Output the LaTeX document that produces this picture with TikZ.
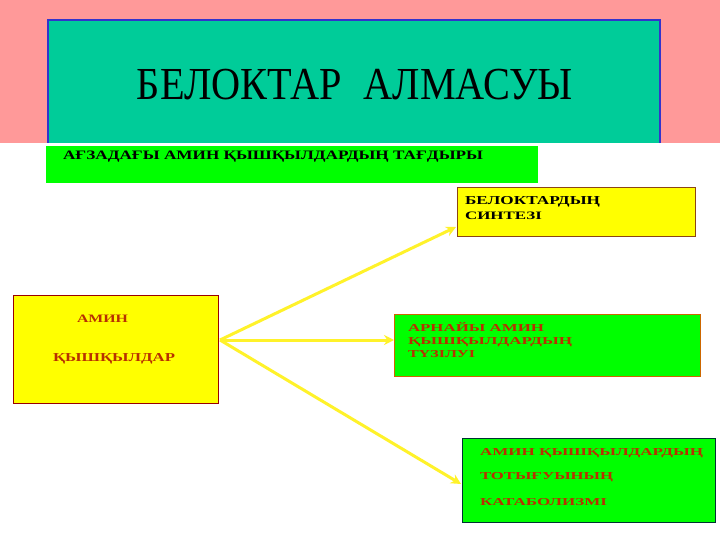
\documentclass[tikz,border=0pt]{standalone}
\usepackage{fontspec}
\usepackage{graphicx}
\setmainfont{Liberation Serif}
\usetikzlibrary{arrows.meta}
\definecolor{pinkbg}{HTML}{FF9999}
\definecolor{tealfill}{HTML}{00CC99}
\definecolor{tealborder}{HTML}{3333CC}
\definecolor{brightgreen}{HTML}{00FF00}
\definecolor{boxyellow}{HTML}{FFFF00}
\definecolor{arrowyellow}{HTML}{FFF22A}
\definecolor{redtext}{HTML}{B83000}
\definecolor{darkred}{HTML}{990000}
\definecolor{brownb}{HTML}{8B4513}
\definecolor{orangeb}{HTML}{CC6600}
\definecolor{navyb}{HTML}{003333}
\newcommand\fitline[3]{\resizebox{#1pt}{#2pt}{\bfseries\smash{#3}\vphantom{A}}}
\begin{document}
\begin{tikzpicture}[x=1pt,y=-1pt,
  box/.style={anchor=north west, inner sep=0pt, outer sep=0pt, line width=1pt},
  txt/.style={anchor=base west, inner sep=0pt, outer sep=0pt},
  conn/.style={draw=arrowyellow, line width=3pt, -{Stealth[length=10pt,width=10pt]}}]
\useasboundingbox (0,0) rectangle (720,540);
\fill[white] (0,0) rectangle (720,540);
\fill[pinkbg] (0,0) rectangle (720,143);
% title box
\node[box, fill=tealfill, minimum width=612pt, minimum height=123pt] (title) at (48,20) {};
\draw[tealborder, line width=1.5pt] (title.south west) -- (title.north west) -- (title.north east) -- (title.south east);
\node[anchor=base, inner sep=0pt] (titletext) at (355,100)
  {\resizebox{436pt}{30pt}{\smash{БЕЛОКТАР\hspace{0.55em}АЛМАСУЫ}\vphantom{Б}}};
% green bar
\node[box, fill=brightgreen, minimum width=492pt, minimum height=37pt] (bar) at (46,146) {};
\node[txt] (bartext) at (63,160) {\fitline{420}{8.5}{АҒЗАДАҒЫ АМИН ҚЫШҚЫЛДАРДЫҢ ТАҒДЫРЫ}};
% synthesis box
\node[box, fill=boxyellow, draw=brownb, minimum width=238pt, minimum height=48pt] (syn) at (457,188) {};
\node[txt] (syn1) at (465,205) {\fitline{135}{8}{БЕЛОКТАРДЫҢ}};
\node[txt] (syn2) at (465,219) {\fitline{77}{7.5}{СИНТЕЗІ}};
% amino acids box
\node[box, fill=boxyellow, draw=darkred, minimum width=205pt, minimum height=108pt] (amino) at (13,295) {};
\node[txt, text=redtext] (am1) at (77,322) {\fitline{51}{7.5}{АМИН}};
\node[txt, text=redtext] (am2) at (53,361) {\fitline{122}{8}{ҚЫШҚЫЛДАР}};
% special box
\node[box, fill=brightgreen, draw=orangeb, minimum width=306pt, minimum height=62pt] (spec) at (394,314) {};
\node[txt, text=redtext] (sp1) at (408,331) {\fitline{136}{7}{АРНАЙЫ АМИН}};
\node[txt, text=redtext] (sp2) at (408,344) {\fitline{164}{7}{ҚЫШҚЫЛДАРДЫҢ}};
\node[txt, text=redtext] (sp3) at (408,357) {\fitline{67}{7}{ТҮЗІЛУІ}};
% catabolism box
\node[box, fill=brightgreen, draw=navyb, minimum width=253pt, minimum height=84pt] (cat) at (462,438) {};
\node[txt, text=redtext] (ct1) at (480,455) {\fitline{223}{7}{АМИН ҚЫШҚЫЛДАРДЫҢ}};
\node[txt, text=redtext] (ct2) at (480,479) {\fitline{133}{7}{ТОТЫҒУЫНЫҢ}};
\node[txt, text=redtext] (ct3) at (480,505) {\fitline{127}{7}{КАТАБОЛИЗМІ}};
% connectors
\coordinate (src) at (220,340);
\coordinate (e1) at (456,227);
\coordinate (e2) at (394,340);
\coordinate (e3) at (461,484);
\draw[conn] (src) -- (e1);
\draw[conn] (src) -- (e2);
\draw[conn] (src) -- (e3);
\end{tikzpicture}
\end{document}
